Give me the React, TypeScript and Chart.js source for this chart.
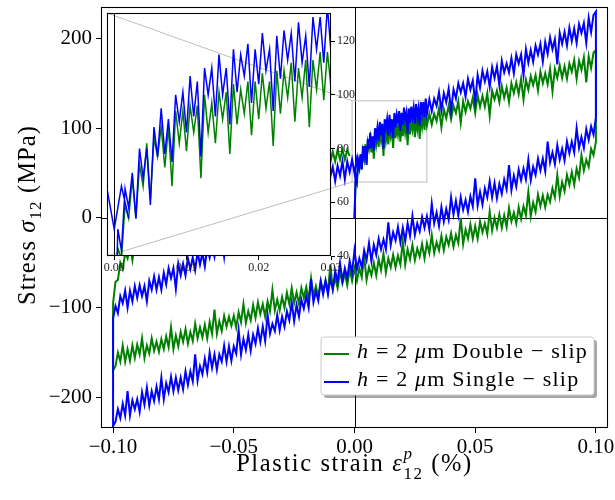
import React, { useEffect, useRef } from "react";
import { Chart, registerables } from "chart.js";

Chart.register(...registerables);

// ---------------- data ----------------
// strain sample positions, in units of 0.001 % (converted with STRAIN_UNIT)
const STRAIN_UNIT = 0.001;
const STRAIN_FINE = [
  0, 0.5, 1, 1.5, 2, 2.5, 3, 3.5, 4, 4.5, 5, 5.5, 6, 6.5, 7, 7.5, 8, 8.5, 9, 9.5, 10,
  10.5, 11, 11.5, 12, 12.5, 13, 13.5, 14, 14.5, 15, 15.5, 16, 16.5, 17, 17.5, 18, 18.5, 19, 19.5, 20,
  20.5, 21, 21.5, 22, 22.5, 23, 23.5, 24, 24.5, 25, 25.5, 26, 26.5, 27, 27.5, 28, 28.5, 29, 29.5, 30,
];
const STRAIN_GRID = [
  -100, -99, -98, -97, -96, -95, -94, -93, -92, -91, -90, -89, -88, -87, -86, -85, -84, -83, -82, -81,
  -80, -79, -78, -77, -76, -75, -74, -73, -72, -71, -70, -69, -68, -67, -66, -65, -64, -63, -62, -61,
  -60, -59, -58, -57, -56, -55, -54, -53, -52, -51, -50, -49, -48, -47, -46, -45, -44, -43, -42, -41,
  -40, -39, -38, -37, -36, -35, -34, -33, -32, -31, -30, -29, -28, -27, -26, -25, -24, -23, -22, -21,
  -20, -19, -18, -17, -16, -15, -14, -13, -12, -11, -10, -9, -8, -7, -6, -5, -4, -3, -2, -1,
  0, 1, 2, 3, 4, 5, 6, 7, 8, 9, 10, 11, 12, 13, 14, 15, 16, 17, 18, 19,
  20, 21, 22, 23, 24, 25, 26, 27, 28, 29, 30, 31, 32, 33, 34, 35, 36, 37, 38, 39,
  40, 41, 42, 43, 44, 45, 46, 47, 48, 49, 50, 51, 52, 53, 54, 55, 56, 57, 58, 59,
  60, 61, 62, 63, 64, 65, 66, 67, 68, 69, 70, 71, 72, 73, 74, 75, 76, 77, 78, 79,
  80, 81, 82, 83, 84, 85, 86, 87, 88, 89, 90, 91, 92, 93, 94, 95, 96, 97, 98, 99, 100,
];

// Single-slip (blue): loading 0 -> 0.1 (fine grid then 31..100)
const BLUE_LOAD = [
  0, 50, 42, 65, 58, 71, 54, 80, 69, 80, 59,
  88, 77, 95, 78, 91, 75, 100, 90, 101, 86,
  107, 92, 105, 77, 110, 100, 110, 92, 115, 100,
  110, 89, 117, 101, 115, 107, 119, 97, 117, 104,
  123, 109, 117, 94, 122, 106, 124, 113, 123, 105,
  127, 112, 122, 103, 129, 117, 129, 112, 133, 116,
  132, 119, 133, 125, 140, 120, 139, 129, 144, 119,
  143, 133, 150, 140, 150, 135, 155, 143, 153, 129,
  159, 145, 164, 152, 163, 146, 168, 156, 169, 148,
  175, 162, 172, 162, 178, 161, 182, 172, 182, 159,
  188, 173, 187, 174, 192, 182, 194, 174, 196, 183,
  201, 188, 199, 171, 206, 194, 207, 192, 212, 197,
  211, 195, 216, 206, 217, 195, 223, 207, 226, 230,
];
// Single-slip (blue): reversed loading 0.1 -> -0.1
const BLUE_UNLOAD = [
  112,
  93, 102, 87, 99, 78, 90, 78, 100, 73, 85,
  72, 85, 64, 77, 65, 81, 60, 73, 62, 85,
  52, 66, 53, 66, 48, 57, 42, 65, 43, 55,
  42, 54, 35, 47, 31, 59, 32, 43, 27, 38,
  22, 39, 23, 41, 23, 33, 15, 29, 14, 44,
  13, 24, 7, 20, 9, 23, 3, 19, 4, 23,
  -2, 10, -4, 12, -9, 6, -6, 16, -13, 2,
  -11, 1, -15, -6, -19, 2, -20, -6, -26, -11,
  -27, -10, -25, -16, -30, -5, -35, -24, -35, -23,
  -41, -30, -48, -28, -47, -36, -55, -45, -57, -36,
  -61, -48, -67, -56, -70, -50, -71, -59, -80, -67,
  -85, -70, -85, -71, -92, -82, -94, -68, -100, -87,
  -101, -91, -110, -97, -115, -94, -114, -104, -121, -110,
  -125, -108, -126, -118, -129, -108, -137, -121, -138, -123,
  -140, -130, -148, -130, -147, -135, -152, -125, -151, -143,
  -159, -143, -160, -142, -160, -152, -169, -152, -167, -150,
  -172, -157, -174, -165, -181, -152, -182, -171, -186, -171,
  -191, -178, -192, -178, -193, -177, -194, -184, -202, -178,
  -202, -188, -204, -193, -209, -189, -208, -194, -216, -202,
  -213, -203, -220, -193, -220, -207, -223, -213, -227, -232,
];
// Single-slip (blue): reloading -0.1 -> 0.002
const BLUE_RELOAD = [
  -112,
  -98, -106, -87, -95, -81, -100, -81, -93, -76, -89,
  -75, -87, -76, -93, -70, -80, -65, -80, -66, -80,
  -61, -74, -56, -67, -56, -79, -51, -64, -51, -64,
  -45, -57, -44, -58, -38, -52, -39, -54, -33, -44,
  -30, -43, -25, -36, -22, -43, -16, -30, -17, -28,
  -11, -22, -10, -24, -3, -13, -1, -15, 5, -9,
  6, -6, 11, 0, 14, -3, 16, 6, 23, 9,
  26, 14, 27, 15, 33, 23, 38, 17, 39, 28,
  44, 30, 46, 37, 52, 34, 52, 42, 59, 46,
  57, 41, 58, 47, 63, 43, 63, 51, 65, 50,
  66, 54,
];

// Double-slip (green)
const GREEN_LOAD = [
  0, 43, 39, 59, 54, 69, 54, 74, 66, 82, 61,
  84, 77, 88, 73, 88, 66, 94, 82, 94, 79,
  96, 86, 96, 69, 100, 86, 97, 82, 101, 91,
  101, 78, 104, 89, 102, 93, 105, 85, 105, 91,
  108, 95, 105, 81, 109, 93, 109, 99, 112, 90,
  110, 99, 113, 88, 113, 102, 116, 98, 116, 103,
  116, 104, 116, 108, 122, 101, 121, 111, 125, 110,
  125, 117, 130, 106, 130, 118, 130, 122, 134, 117,
  137, 124, 136, 124, 139, 114, 142, 132, 142, 129,
  147, 134, 145, 129, 150, 139, 151, 138, 155, 132,
  154, 143, 158, 148, 159, 142, 163, 150, 161, 149,
  166, 141, 166, 156, 170, 156, 169, 155, 172, 163,
  176, 155, 175, 165, 179, 151, 180, 167, 184, 187,
];
const GREEN_UNLOAD = [
  85,
  70, 77, 57, 65, 53, 70, 45, 55, 37, 51,
  37, 48, 30, 40, 24, 48, 23, 33, 18, 26,
  12, 25, 13, 26, 7, 17, 2, 29, 3, 13,
  -1, 12, -6, 6, -4, 11, -10, 3, -11, 4,
  -11, 0, -14, 7, -18, -6, -16, -4, -23, -9,
  -23, -7, -23, -13, -29, 0, -28, -19, -32, -17,
  -30, -21, -36, -20, -36, -27, -39, -19, -39, -28,
  -45, -29, -43, -34, -47, -30, -46, -35, -52, -26,
  -52, -42, -55, -41, -55, -45, -61, -40, -58, -46,
  -64, -50, -64, -55, -69, -43, -66, -56, -70, -56,
  -70, -57, -75, -62, -73, -60, -78, -67, -79, -52,
  -82, -70, -82, -70, -88, -76, -87, -67, -91, -77,
  -89, -78, -96, -83, -95, -78, -96, -83, -100, -88,
  -103, -91, -103, -80, -104, -93, -110, -96, -107, -94,
  -111, -97, -114, -104, -117, -96, -116, -105, -122, -109,
  -120, -110, -121, -109, -126, -115, -129, -102, -129, -116,
  -134, -119, -133, -122, -134, -118, -137, -127, -140, -124,
  -138, -127, -143, -131, -146, -122, -144, -132, -146, -135,
  -149, -138, -148, -134, -151, -142, -156, -134, -152, -141,
  -156, -142, -159, -146, -160, -142, -160, -150, -165, -170,
];
const GREEN_RELOAD = [
  -95,
  -71, -69, -50, -57, -39, -45, -31, -47, -28, -37,
  -23, -35, -22, -34, -16, -26, -14, -31, -10, -18,
  -6, -16, -5, -17, -1, -12, 0, -19, 6, -5,
  6, -5, 10, 0, 14, -3, 13, 4, 18, 4,
  20, 9, 22, 5, 26, 16, 27, 15, 29, 18,
  33, 22, 32, 20, 37, 26, 38, 19, 42, 32,
  42, 31, 45, 35, 49, 33, 48, 39, 52, 39,
  54, 44, 55, 39, 59, 47, 58, 48, 62, 52,
  63, 52, 66, 57, 69, 54, 66, 59, 72, 62,
  74, 63, 76, 65, 76, 65, 76, 69,
];

const SERIES_LABELS = ["h = 2 μm Double − slip", "h = 2 μm Single − slip"];
const SERIES_COLORS = ["#008000", "#0000ff"];

const X_RANGE = [-0.105, 0.105];
const Y_RANGE = [-234, 235];
const X_TICKS = [-0.1, -0.05, 0, 0.05, 0.1];
const Y_TICKS = [-200, -100, 0, 100, 200];
const ZOOM_X = [-0.001, 0.03];
const ZOOM_Y = [40, 130.5];
const INSET_X_TICKS = [0, 0.01, 0.02, 0.03];
const INSET_Y_TICKS = [40, 60, 80, 100, 120];

// ---------------- layout / style ----------------
const W = 615;
const H = 500;
const SERIF = '"Liberation Serif", "Times New Roman", serif';
const INSET_BOX = { left: 107, top: 13, right: 331, bottom: 256 };
const ZOOM_GRAY = "#bdbdbd";

const loadX = [...STRAIN_FINE, ...STRAIN_GRID.filter((v) => v > 30)];
const unloadX = STRAIN_GRID.slice().reverse();

function pts(xs: number[], ys: number[]) {
  return ys.map((y, i) => ({ x: xs[i] * STRAIN_UNIT, y }));
}
function loopPoints(load: number[], unload: number[], reload: number[]) {
  return [...pts(loadX, load), ...pts(unloadX, unload), ...pts(STRAIN_GRID, reload)];
}

type Run = { t: string; italic?: boolean; size: number; dy?: number; overlay?: boolean };

function runsWidth(ctx: CanvasRenderingContext2D, runs: Run[]) {
  let w = 0;
  for (const r of runs) {
    ctx.font = `${r.italic ? "italic " : ""}${r.size}px ${SERIF}`;
    if (!r.overlay) w += ctx.measureText(r.t).width;
  }
  return w;
}
function drawRuns(ctx: CanvasRenderingContext2D, runs: Run[], x: number, y: number) {
  let cx = x;
  for (const r of runs) {
    ctx.font = `${r.italic ? "italic " : ""}${r.size}px ${SERIF}`;
    ctx.fillText(r.t, cx, y + (r.dy || 0));
    if (!r.overlay) cx += ctx.measureText(r.t).width;
  }
}
function labelRuns(label: string, size: number): Run[] {
  const runs: Run[] = [];
  for (const ch of label) {
    const it = ch === "h" || ch === "μ";
    const last = runs[runs.length - 1];
    if (last && !!last.italic === it) last.t += ch;
    else runs.push({ t: ch, italic: it, size });
  }
  return runs;
}
function roundRectPath(ctx: CanvasRenderingContext2D, x: number, y: number, w: number, h: number, r: number) {
  ctx.beginPath();
  ctx.moveTo(x + r, y);
  ctx.lineTo(x + w - r, y);
  ctx.arcTo(x + w, y, x + w, y + r, r);
  ctx.lineTo(x + w, y + h - r);
  ctx.arcTo(x + w, y + h, x + w - r, y + h, r);
  ctx.lineTo(x + r, y + h);
  ctx.arcTo(x, y + h, x, y + h - r, r);
  ctx.lineTo(x, y + r);
  ctx.arcTo(x, y, x + r, y, r);
  ctx.closePath();
}

function zoomCorners(main: any) {
  const xs = main.scales.x;
  const ys = main.scales.y;
  return {
    left: xs.getPixelForValue(ZOOM_X[0]),
    right: xs.getPixelForValue(ZOOM_X[1]),
    top: ys.getPixelForValue(ZOOM_Y[1]),
    bottom: ys.getPixelForValue(ZOOM_Y[0]),
  };
}

function drawConnectors(ctx: CanvasRenderingContext2D, z: any, boxLeft: number, boxTop: number, boxBottom: number) {
  ctx.strokeStyle = ZOOM_GRAY;
  ctx.lineWidth = 1;
  ctx.beginPath();
  ctx.moveTo(boxLeft, boxTop);
  ctx.lineTo(z.left, z.top);
  ctx.moveTo(boxLeft, boxBottom);
  ctx.lineTo(z.left, z.bottom);
  ctx.stroke();
}

function fixSize(prop: "width" | "height", size: number) {
  return (s: any) => {
    s[prop] = size;
    s.paddingTop = 0;
    s.paddingBottom = 0;
    s.paddingLeft = 0;
    s.paddingRight = 0;
  };
}

const mainDecor = {
  id: "mainDecor",
  beforeDatasetsDraw(chart: any) {
    const { ctx, chartArea: a, scales } = chart;
    ctx.save();
    ctx.strokeStyle = "#000";
    ctx.lineWidth = 1;
    const x0 = Math.round(scales.x.getPixelForValue(0)) + 0.5;
    const y0 = Math.round(scales.y.getPixelForValue(0)) + 0.5;
    ctx.beginPath();
    ctx.moveTo(a.left, y0);
    ctx.lineTo(a.right, y0);
    ctx.moveTo(x0, a.top);
    ctx.lineTo(x0, a.bottom);
    ctx.stroke();
    const z = zoomCorners(chart);
    ctx.strokeStyle = ZOOM_GRAY;
    ctx.strokeRect(z.left, z.top, z.right - z.left, z.bottom - z.top);
    drawConnectors(ctx, z, INSET_BOX.left, INSET_BOX.top, INSET_BOX.bottom);
    ctx.restore();
  },
  afterDatasetsDraw(chart: any) {
    const { ctx, chartArea: a } = chart;
    ctx.save();
    ctx.strokeStyle = "#000";
    ctx.lineWidth = 1.1;
    ctx.strokeRect(a.left + 0.5, a.top + 0.5, a.right - a.left - 1, a.bottom - a.top - 1);
    ctx.restore();
  },
  afterDraw(chart: any) {
    const { ctx } = chart;
    ctx.save();
    ctx.fillStyle = "#000";
    ctx.textBaseline = "alphabetic";
    ctx.textAlign = "left";

    // x title
    (ctx as any).letterSpacing = "1.6px";
    const xRuns: Run[] = [
      { t: "Plastic strain ", size: 24.5 },
      { t: "ε", italic: true, size: 24.5 },
      { t: "p", italic: true, size: 17, dy: -12, overlay: true },
      { t: "12", size: 17, dy: 8 },
      { t: " (%)", size: 24.5 },
    ];
    const xw = runsWidth(ctx, xRuns);
    drawRuns(ctx, xRuns, 354.5 - xw / 2, 471);

    // y title
    (ctx as any).letterSpacing = "1.1px";
    const yRuns: Run[] = [
      { t: "Stress ", size: 24.5 },
      { t: "σ", italic: true, size: 24.5 },
      { t: "12", size: 17, dy: 6 },
      { t: " (MPa)", size: 24.5 },
    ];
    const yw = runsWidth(ctx, yRuns);
    ctx.save();
    ctx.translate(35, 215);
    ctx.rotate(-Math.PI / 2);
    drawRuns(ctx, yRuns, -yw / 2, 0);
    ctx.restore();

    // legend
    (ctx as any).letterSpacing = "0px";
    const L = 321, T = 337, LW = 273, LH = 58;
    ctx.fillStyle = "rgba(0,0,0,0.35)";
    roundRectPath(ctx, L + 3, T + 3, LW, LH, 3);
    ctx.fill();
    ctx.fillStyle = "#fff";
    roundRectPath(ctx, L, T, LW, LH, 3);
    ctx.fill();
    ctx.strokeStyle = "#cccccc";
    ctx.lineWidth = 1;
    ctx.stroke();
    (ctx as any).letterSpacing = "1.2px";
    SERIES_LABELS.forEach((lab, i) => {
      const yb = 358 + i * 28;
      ctx.strokeStyle = SERIES_COLORS[i];
      ctx.lineWidth = 2;
      ctx.beginPath();
      ctx.moveTo(324, yb - 4);
      ctx.lineTo(349, yb - 4);
      ctx.stroke();
      ctx.fillStyle = "#000";
      drawRuns(ctx, labelRuns(lab, 22), 357, yb);
    });
    ctx.restore();
  },
};

function makeDatasets(lw: number) {
  return [
    {
      label: SERIES_LABELS[1],
      data: loopPoints(BLUE_LOAD, BLUE_UNLOAD, BLUE_RELOAD),
      borderColor: SERIES_COLORS[1],
      borderWidth: lw,
      pointRadius: 0,
      fill: false,
      tension: 0,
    },
    {
      label: SERIES_LABELS[0],
      data: loopPoints(GREEN_LOAD, GREEN_UNLOAD, GREEN_RELOAD),
      borderColor: SERIES_COLORS[0],
      borderWidth: lw,
      pointRadius: 0,
      fill: false,
      tension: 0,
    },
  ];
}

function mainConfig(): any {
  return {
    type: "line",
    data: { datasets: makeDatasets(2) },
    options: {
      animation: false,
      responsive: false,
      maintainAspectRatio: false,
      events: [],
      layout: { padding: { left: 0, top: 7, right: 7, bottom: 0 } },
      plugins: { legend: { display: false }, tooltip: { enabled: false }, title: { display: false } },
      scales: {
        x: {
          type: "linear",
          min: X_RANGE[0],
          max: X_RANGE[1],
          afterBuildTicks: (s: any) => {
            s.ticks = X_TICKS.map((value) => ({ value }));
          },
          afterFit: fixSize("height", 72),
          grid: { drawOnChartArea: false, drawTicks: true, tickLength: 5, tickColor: "#000", tickWidth: 1 },
          border: { display: false },
          ticks: {
            autoSkip: false,
            maxRotation: 0,
            padding: 2,
            color: "#000",
            font: { family: SERIF, size: 21 },
            callback: (v: any) => Number(v).toFixed(2).replace("-", "−"),
          },
        },
        y: {
          type: "linear",
          min: Y_RANGE[0],
          max: Y_RANGE[1],
          afterBuildTicks: (s: any) => {
            s.ticks = Y_TICKS.map((value) => ({ value }));
          },
          afterFit: fixSize("width", 101),
          grid: { drawOnChartArea: false, drawTicks: true, tickLength: 5, tickColor: "#000", tickWidth: 1 },
          border: { display: false },
          ticks: {
            autoSkip: false,
            padding: 4,
            color: "#000",
            font: { family: SERIF, size: 21 },
            callback: (v: any) => String(v).replace("-", "−"),
          },
        },
      },
    },
    plugins: [mainDecor],
  };
}

function insetConfig(main: any): any {
  const insetDecor = {
    id: "insetDecor",
    beforeDraw(chart: any) {
      const { ctx, chartArea: a } = chart;
      ctx.save();
      ctx.fillStyle = "#fff";
      ctx.fillRect(a.left, a.top, a.right - a.left, a.bottom - a.top);
      ctx.restore();
    },
    beforeDatasetsDraw(chart: any) {
      const { ctx, chartArea: a, scales } = chart;
      ctx.save();
      ctx.beginPath();
      ctx.rect(a.left, a.top, a.right - a.left, a.bottom - a.top);
      ctx.clip();
      drawConnectors(ctx, zoomCorners(main), a.left, a.top, a.bottom);
      const x0 = Math.round(scales.x.getPixelForValue(0)) + 0.5;
      ctx.strokeStyle = "#000";
      ctx.lineWidth = 1;
      ctx.beginPath();
      ctx.moveTo(x0, a.top);
      ctx.lineTo(x0, a.bottom);
      ctx.stroke();
      ctx.restore();
    },
    afterDatasetsDraw(chart: any) {
      const { ctx, chartArea: a } = chart;
      ctx.save();
      ctx.strokeStyle = "#000";
      ctx.lineWidth = 1.1;
      ctx.strokeRect(a.left + 0.5, a.top + 0.5, a.right - a.left - 1, a.bottom - a.top - 1);
      ctx.restore();
    },
  };
  const rightW = 30;
  const bottomH = 20;
  return {
    type: "line",
    data: { datasets: makeDatasets(1.5) },
    options: {
      animation: false,
      responsive: false,
      maintainAspectRatio: false,
      events: [],
      layout: {
        padding: {
          left: INSET_BOX.left,
          top: INSET_BOX.top,
          right: W - INSET_BOX.right - rightW,
          bottom: H - INSET_BOX.bottom - bottomH,
        },
      },
      plugins: { legend: { display: false }, tooltip: { enabled: false } },
      scales: {
        x: {
          type: "linear",
          min: ZOOM_X[0],
          max: ZOOM_X[1],
          afterBuildTicks: (s: any) => {
            s.ticks = INSET_X_TICKS.map((value) => ({ value }));
          },
          afterFit: fixSize("height", bottomH),
          grid: { drawOnChartArea: false, drawTicks: true, tickLength: 4, tickColor: "#000", tickWidth: 1 },
          border: { display: false },
          ticks: {
            autoSkip: false,
            maxRotation: 0,
            padding: 1,
            color: "#222",
            font: { family: SERIF, size: 12 },
            callback: (v: any) => Number(v).toFixed(2),
          },
        },
        y: {
          type: "linear",
          position: "right",
          min: ZOOM_Y[0],
          max: ZOOM_Y[1],
          afterBuildTicks: (s: any) => {
            s.ticks = INSET_Y_TICKS.map((value) => ({ value }));
          },
          afterFit: fixSize("width", rightW),
          grid: { drawOnChartArea: false, drawTicks: true, tickLength: 4, tickColor: "#000", tickWidth: 1 },
          border: { display: false },
          ticks: {
            autoSkip: false,
            padding: 2,
            color: "#222",
            font: { family: SERIF, size: 12 },
            callback: (v: any) => String(v),
          },
        },
      },
    },
    plugins: [insetDecor],
  };
}

export default function App() {
  const mainRef = useRef<HTMLCanvasElement>(null);
  const insetRef = useRef<HTMLCanvasElement>(null);
  useEffect(() => {
    const main = new Chart(mainRef.current as HTMLCanvasElement, mainConfig());
    const inset = new Chart(insetRef.current as HTMLCanvasElement, insetConfig(main));
    return () => {
      inset.destroy();
      main.destroy();
    };
  }, []);
  const cs: any = { position: "absolute", left: 0, top: 0, width: W, height: H };
  return (
    <div style={{ position: "absolute", left: 0, top: 0, width: W, height: H, background: "#fff" }}>
      <canvas ref={mainRef} width={W} height={H} style={cs} />
      <canvas ref={insetRef} width={W} height={H} style={{ ...cs, pointerEvents: "none" }} />
    </div>
  );
}
